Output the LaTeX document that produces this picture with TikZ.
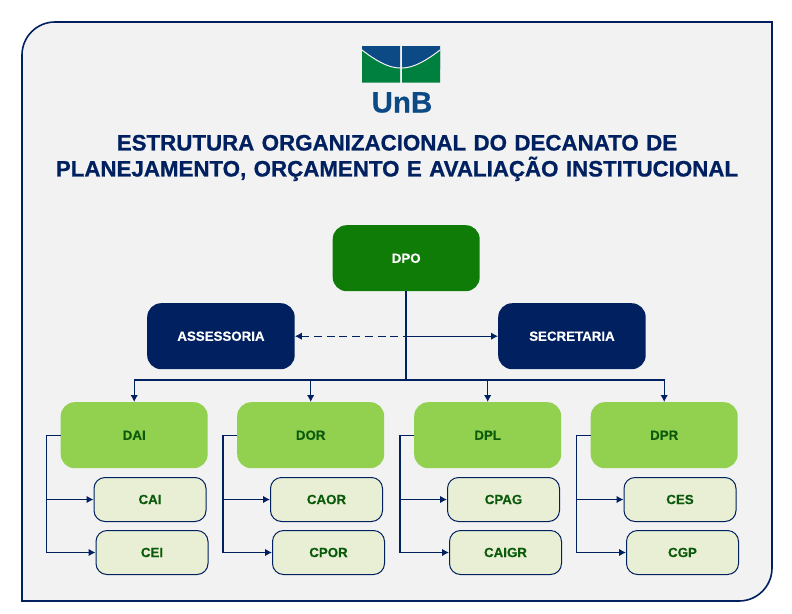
\documentclass[tikz,border=0pt]{standalone}
\usepackage{fontspec}
\setmainfont{Liberation Sans}[BoldFeatures={FakeBold=0.4}]
\newfontfamily\titlefont{Liberation Sans}[BoldFeatures={FakeBold=0.9}]
\usetikzlibrary{arrows.meta,calc}
\definecolor{navy}{HTML}{002060}
\definecolor{panelbg}{HTML}{F2F2F2}
\definecolor{dgreen}{HTML}{0F7C07}
\definecolor{lgreen}{HTML}{92D050}
\definecolor{pale}{HTML}{E9EFD5}
\definecolor{txtgreen}{HTML}{0B5A0B}
\definecolor{logoblue}{HTML}{0B4A85}
\definecolor{logogreen}{HTML}{00803F}
\tikzset{
  x=1pt,y=-1pt,
  box/.style={rounded corners=#1,inner sep=0pt,anchor=north west,align=center,font=\bfseries\fontsize{13.3}{15}\selectfont},
  topbox/.style={box=14pt,minimum width=147pt,minimum height=66pt,fill=dgreen,text=white},
  sidebox/.style={box=14pt,minimum width=147.5pt,minimum height=66pt,fill=navy,text=white},
  dirbox/.style={box=14pt,minimum width=147pt,minimum height=66pt,fill=lgreen,text=txtgreen},
  coordbox/.style={box=11pt,minimum width=112pt,minimum height=44pt,fill=pale,draw=navy,line width=1pt,text=txtgreen},
  link/.style={navy,line width=1.2pt},
  tree/.style={link,-{Latex[length=7pt,width=7.5pt]}},
}
\begin{document}
\begin{tikzpicture}
\useasboundingbox (0,0) rectangle (792,613);
\fill[white] (0,0) rectangle (792,613);
% panel
\draw[fill=panelbg,draw=navy,line width=1.6pt]
  (22,601) [sharp corners] -- (22,300) [rounded corners=33pt] -- (22,22) -- (400,22) [sharp corners] -- (772,22) -- (772,300) [rounded corners=33pt] -- (772,601) -- (400,601) [sharp corners] -- cycle;
% logo
\fill[logoblue] (362,46) rectangle (400,69) (402,46) rectangle (440,69);
\fill[logogreen] (362,50) .. controls (375,60) and (388,68) .. (400,68) -- (400,82.5) -- (362,82.5) -- cycle;
\fill[logogreen] (440,50) .. controls (427,60) and (414,68) .. (402,68) -- (402,82.5) -- (440,82.5) -- cycle;
\draw[panelbg,line width=1pt] (362,50) .. controls (375,60) and (388,68) .. (400,68) -- (402,68) .. controls (414,68) and (427,60) .. (440,50);
\node[text=logoblue,font=\bfseries\fontsize{29.5}{30}\selectfont,inner sep=0pt] (unb) at (402,102.5) {UnB};
% title
\node[text=navy,font=\titlefont\bfseries\fontsize{22.3}{26}\selectfont,inner sep=0pt,align=center,text width=760pt] (title) at (397,158)
  {ESTRUTURA ORGANIZACIONAL DO DECANATO DE\\PLANEJAMENTO, ORÇAMENTO E AVALIAÇÃO INSTITUCIONAL};
% nodes
\node[topbox] (dpo) at (332.5,225) {DPO};
\node[sidebox] (ass) at (147,303) {ASSESSORIA};
\node[sidebox] (sec) at (498,303) {SECRETARIA};
\node[dirbox] (dai) at (60.5,402) {DAI};
\node[dirbox] (dor) at (237,402) {DOR};
\node[dirbox] (dpl) at (414,402) {DPL};
\node[dirbox] (dpr) at (590.5,402) {DPR};
\node[coordbox] (cai) at (93.5,477) {CAI};
\node[coordbox] (cei) at (95.5,530) {CEI};
\node[coordbox] (caor) at (270,477) {CAOR};
\node[coordbox] (cpor) at (272,530) {CPOR};
\node[coordbox] (cpag) at (447,477) {CPAG};
\node[coordbox] (caigr) at (449,530) {CAIGR};
\node[coordbox] (ces) at (623.5,477) {CES};
\node[coordbox] (cgp) at (626,530) {CGP};
% connectors
\coordinate (hub) at (dpo.south |- ass.east);
\coordinate (bus) at (dpo.south |- 0,380);
\draw[link,line width=1.5pt] (dpo.south) -- (bus);
\draw[link,{Latex[length=7pt,width=7.5pt]}-,dash pattern=on 8pt off 4.7pt] (ass.east) -- (hub);
\draw[link,-{Latex[length=7pt,width=7.5pt]}] (hub) -- (sec.west);
\foreach \d in {dai,dor,dpl,dpr}{
  \draw[tree] (bus) -| (\d.north);
}
\foreach \d/\a/\b in {dai/cai/cei,dor/caor/cpor,dpl/cpag/caigr,dpr/ces/cgp}{
  \coordinate (s) at ($(\d.west)+(-14,0)$);
  \draw[link] (\d.west) -- (s) -- (s |- \b.west) ;
  \draw[tree] (s |- \a.west) -- (\a.west);
  \draw[tree] (s |- \b.west) -- (\b.west);
}
\end{tikzpicture}
\end{document}
